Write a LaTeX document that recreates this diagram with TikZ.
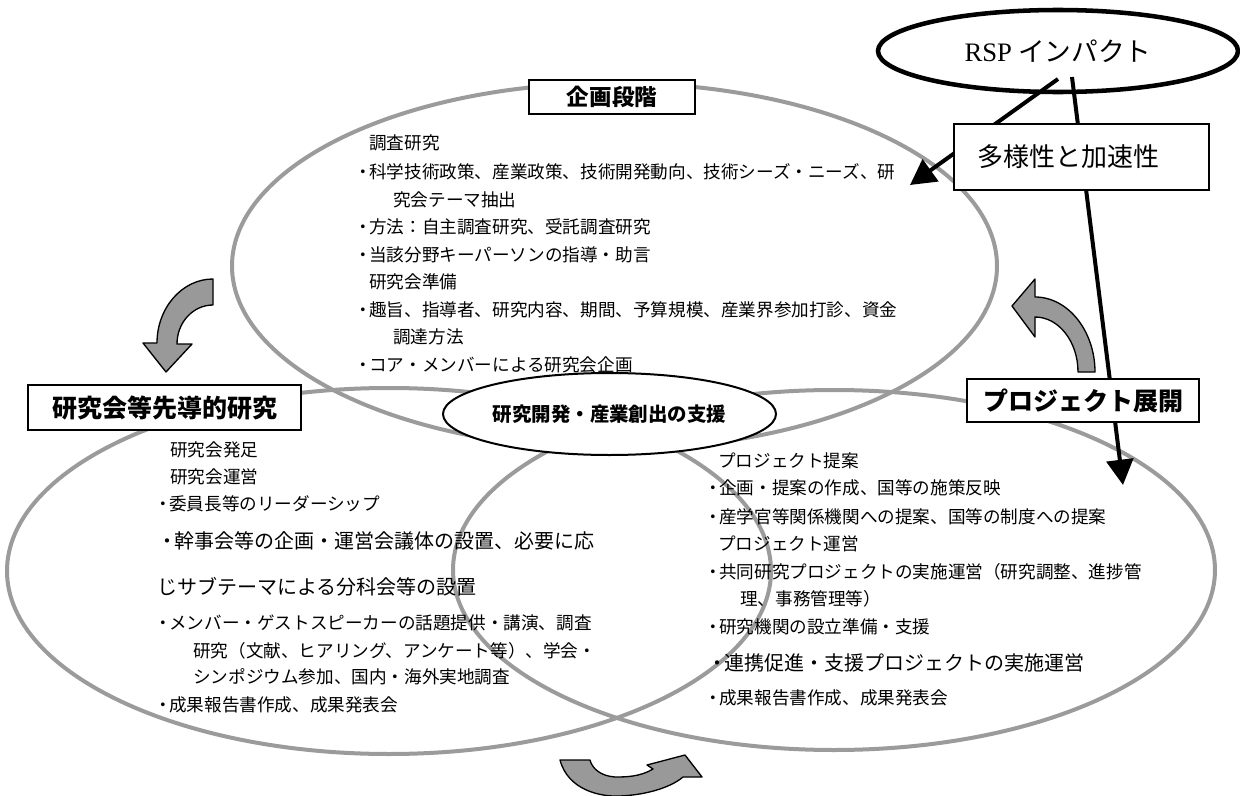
\documentclass[tikz,border=0pt]{standalone}
\usepackage{fontspec}
\setmainfont{Noto Sans CJK JP}
\newfontfamily\rspfont{Liberation Serif}
\usetikzlibrary{shapes.geometric,arrows.meta}
\definecolor{ringgray}{RGB}{155,155,155}
\definecolor{arrfill}{RGB}{153,153,153}
\newcommand\bl{\makebox[8.25pt][c]{・}}
\newcommand\blb{\makebox[10.5pt][c]{・}}
\begin{document}
\begin{tikzpicture}[x=0.75pt,y=-0.75pt,
  ring/.style={draw=ringgray, line width=3pt},
  txt/.style={anchor=west, inner sep=0pt, font=\fontsize{13.2pt}{15pt}\selectfont},
  txtbig/.style={anchor=west, inner sep=0pt, font=\fontsize{15pt}{18pt}\selectfont},
  stagebox/.style={draw, line width=1.5pt, fill=white, inner sep=0pt, font=\bfseries\fontsize{18.75pt}{20pt}\selectfont},
  impact/.style={draw, ellipse, line width=3.4pt, fill=white, inner sep=0pt},
  bigarrow/.style={line width=3pt, -{Triangle[length=19pt,width=20pt]}},
  turn/.style={fill=arrfill, draw=black, line width=1pt, line join=round}]
\useasboundingbox (0,0) rectangle (1240,796);
\fill[white] (0,0) rectangle (1240,796);

% three stage rings
\draw[ring] (614.5,266) ellipse [x radius=382.5, y radius=183];
\draw[ring] (389,571) ellipse [x radius=382, y radius=183];
\draw[ring] (834,570) ellipse [x radius=381, y radius=180];

% planning stage text
\node[txt] (p1) at (369,143) {調査研究};
\node[txt] (p2) at (358,172) {\bl 科学技術政策、産業政策、技術開発動向、技術シーズ・ニーズ、研};
\node[txt] (p3) at (393,200) {究会テーマ抽出};
\node[txt] (p4) at (358,227) {\bl 方法：自主調査研究、受託調査研究};
\node[txt] (p5) at (358,255) {\bl 当該分野キーパーソンの指導・助言};
\node[txt] (p6) at (369,282) {研究会準備};
\node[txt] (p7) at (358,310) {\bl 趣旨、指導者、研究内容、期間、予算規模、産業界参加打診、資金};
\node[txt] (p8) at (393,337) {調達方法};
\node[txt] (p9) at (358,365) {\bl コア・メンバーによる研究会企画};

% research group text
\node[txt] (r1) at (170,450) {研究会発足};
\node[txt] (r2) at (170,477) {研究会運営};
\node[txt] (r3) at (158,504) {\bl 委員長等のリーダーシップ};
\node[txtbig] (r4) at (160,541) {\blb 幹事会等の企画・運営会議体の設置、必要に応};
\node[txtbig] (r5) at (157,587) {じサブテーマによる分科会等の設置};
\node[txt] (r6) at (158,623) {\bl メンバー・ゲストスピーカーの話題提供・講演、調査};
\node[txt] (r7) at (193,651) {研究（文献、ヒアリング、アンケート等）、学会・};
\node[txt] (r8) at (193,677) {シンポジウム参加、国内・海外実地調査};
\node[txt] (r9) at (158,705) {\bl 成果報告書作成、成果発表会};

% project text
\node[txt] (j1) at (718,461) {プロジェクト提案};
\node[txt] (j2) at (708,488) {\bl 企画・提案の作成、国等の施策反映};
\node[txt] (j3) at (708,517) {\bl 産学官等関係機関への提案、国等の制度への提案};
\node[txt] (j4) at (718,544) {プロジェクト運営};
\node[txt] (j5) at (708,572) {\bl 共同研究プロジェクトの実施運営（研究調整、進捗管};
\node[txt] (j6) at (740,599) {理、事務管理等）};
\node[txt] (j7) at (708,627) {\bl 研究機関の設立準備・支援};
\node[txtbig] (j8) at (710,663) {\blb 連携促進・支援プロジェクトの実施運営};
\node[txt] (j9) at (708,698) {\bl 成果報告書作成、成果発表会};

% centre support ellipse
\node[draw, ellipse, line width=1.5pt, fill=white, minimum width=249.75pt, minimum height=61.5pt, inner sep=0pt,
      font=\bfseries\fontsize{14.6pt}{16pt}\selectfont] (support) at (609.5,414) {研究開発・産業創出の支援};

% RSP impact
\node[impact, minimum width=270pt, minimum height=61.5pt, font=\fontsize{20pt}{22pt}\selectfont] (rsp) at (1058,51) {{\rspfont RSP} インパクト};
\coordinate (as) at (1058,79);
\coordinate (at) at (910,185);
\coordinate (bs) at (1072,77);
\coordinate (bt) at (1123,485);
\draw[bigarrow] (as) -- (at);
\draw[bigarrow] (bs) -- (bt);

% labels
\node[draw, line width=1.2pt, fill=white, minimum width=191.25pt, minimum height=49.5pt, text width=156.75pt,
      inner xsep=17.25pt, inner ysep=0pt, align=left, font=\fontsize{19.5pt}{22pt}\selectfont] (speed) at (1081.5,157) {多様性と加速性};
\node[stagebox, minimum width=124.5pt, minimum height=25.5pt, font=\bfseries\fontsize{16.9pt}{18pt}\selectfont] (plan) at (612,97) {企画段階};
\node[stagebox, minimum width=204.75pt, minimum height=33.75pt] (study) at (164.5,407.5) {研究会等先導的研究};
\node[stagebox, minimum width=174pt, minimum height=32.25pt] (proj) at (1083,400.5) {プロジェクト展開};

% curved grey arrows
\draw[turn] (213,279) -- (213,305) .. controls (193,305) and (177,322.5) .. (177,344)
  -- (192,344) -- (166,372) -- (143,343) -- (157,343)
  .. controls (157,308) and (182,279) .. (213,279) -- cycle;
\draw[turn] (1078,372) -- (1095,372) .. controls (1095,331) and (1068,297) .. (1035,297)
  -- (1035,279) -- (1012,306) -- (1035,337) -- (1035,317)
  .. controls (1059,317) and (1078,342) .. (1078,372) -- cycle;
\draw[turn] (560,760) .. controls (568,790) and (600,797) .. (620,796)
  .. controls (645,795) and (670,788) .. (683,777) -- (702,777) -- (685,755) -- (647,765) -- (653,769)
  .. controls (640,777) and (625,777) .. (615,777) .. controls (600,776) and (592,768) .. (590,760) -- cycle;
\end{tikzpicture}
\end{document}
